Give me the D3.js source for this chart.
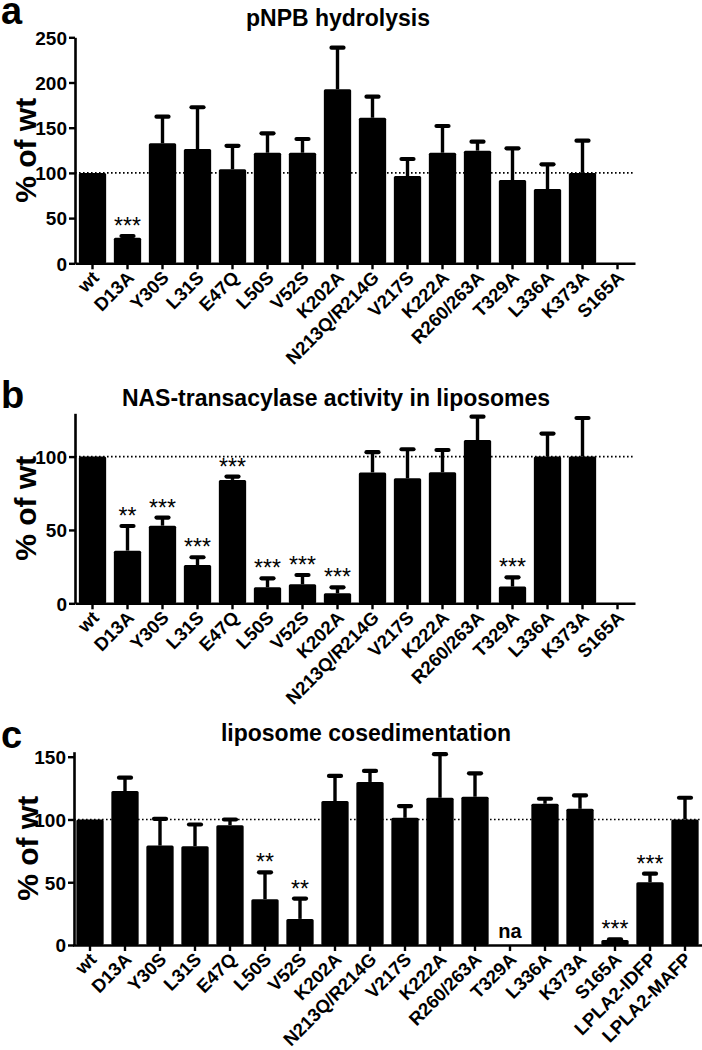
<!DOCTYPE html>
<html><head><meta charset="utf-8">
<script src="https://cdn.jsdelivr.net/npm/d3@7"></script>
<style>
html,body{margin:0;padding:0;background:#fff;}
svg{display:block;}
text{font-family:"Liberation Sans",Arial,Helvetica,sans-serif;fill:#000;}
</style>
</head><body>
<script>
// ---------- data ----------
const catsAB = ["wt","D13A","Y30S","L31S","E47Q","L50S","V52S","K202A","N213Q/R214G","V217S","K222A","R260/263A","T329A","L336A","K373A","S165A"];
const catsC  = ["wt","D13A","Y30S","L31S","E47Q","L50S","V52S","K202A","N213Q/R214G","V217S","K222A","R260/263A","T329A","L336A","K373A","S165A","LPLA2-IDFP","LPLA2-MAFP"];

// panel a: pNPB hydrolysis
const valsA = [100, 28.3, 132.7, 126.4, 104, 122.3, 122.3, 192.5, 161, 96.6, 122.3, 124.6, 92.1, 82.2, 100, 0];
const errsA = [0, 1.9, 29.5, 46.2, 26, 21.5, 15.2, 46, 23.3, 18.8, 29.6, 9.9, 35.1, 27.3, 35.6, 0];
const sigA  = ["", "***", "", "", "", "", "", "", "", "", "", "", "", "", "", ""];

// panel b: NAS-transacylase activity in liposomes
const valsB = [100, 35.9, 52.9, 26.1, 84.1, 10.9, 12.9, 6.8, 89.2, 85.2, 89.3, 111.3, 11.4, 100, 100, 0];
const errsB = [0, 16.8, 5.5, 5.3, 2.3, 6.1, 6.4, 4.1, 13.8, 19.8, 15.2, 15.9, 6.3, 15.7, 26.3, 0];
const sigB  = ["", "**", "***", "***", "***", "***", "***", "***", "", "", "", "", "***", "", "", ""];

// panel c: liposome cosedimentation (T329A not available)
const valsC = [100, 122.7, 79.2, 78.7, 95.5, 36.5, 20.8, 114.7, 129.9, 101.3, 117.3, 118.1, null, 112.5, 108.5, 4, 50, 100];
const errsC = [0, 10.6, 21.3, 17.3, 4.5, 21.4, 16.2, 20, 8.8, 9.4, 34.7, 18.7, 0, 4, 10.7, 0.5, 6.8, 17.3];
const sigC  = ["", "", "", "", "", "**", "**", "", "", "", "", "", "", "", "", "***", "***", ""];
const naLabel = "na";

const yTicksA = [0, 50, 100, 150, 200, 250];
const yTicksB = [0, 50, 100];
const yTicksC = [0, 50, 100, 150];
const titles = ["pNPB hydrolysis", "NAS-transacylase activity in liposomes", "liposome cosedimentation"];
const letters = ["a", "b", "c"];
const yLabel = "% of wt";
const refValue = 100;

// ---------- drawing ----------
const svg = d3.select("body").append("svg").attr("width", 702).attr("height", 1050);
const FONT = '"Liberation Sans",Arial,sans-serif';

function panel(o) {
  const g = svg.append("g");
  const x = d3.scaleBand().domain(o.cats).range(o.xr).paddingInner(0.22).paddingOuter(0.11);
  const y = d3.scaleLinear().domain(o.yd).range(o.yr);
  const bw = x.bandwidth();
  const data = o.cats.map((c, i) => ({c, v: o.vals[i], e: o.errs[i], s: o.sig[i]}));

  // reference dotted line
  g.append("line")
    .attr("x1", o.axisX).attr("x2", o.xEnd)
    .attr("y1", y(refValue)).attr("y2", y(refValue))
    .attr("stroke", "#000").attr("stroke-width", 1.6).attr("stroke-dasharray", "1.6,2.4");

  // bars
  g.selectAll("rect.bar").data(data.filter(d => d.v != null && d.v > 0)).join("rect")
    .attr("class", "bar")
    .attr("x", d => x(d.c)).attr("width", bw)
    .attr("y", d => y(d.v)).attr("height", d => y(0) - y(d.v))
    .attr("rx", 1.5).attr("fill", "#000");

  // error bars (upper only)
  const eb = data.filter(d => d.v != null && d.e > 0);
  g.selectAll("line.stem").data(eb).join("line")
    .attr("class", "stem")
    .attr("x1", d => x(d.c) + bw / 2).attr("x2", d => x(d.c) + bw / 2)
    .attr("y1", d => y(d.v)).attr("y2", d => y(d.v + d.e))
    .attr("stroke", "#000").attr("stroke-width", 3.4);
  g.selectAll("line.cap").data(eb).join("line")
    .attr("class", "cap")
    .attr("x1", d => x(d.c) + bw / 2 - 6).attr("x2", d => x(d.c) + bw / 2 + 6)
    .attr("y1", d => y(d.v + d.e)).attr("y2", d => y(d.v + d.e))
    .attr("stroke", "#000").attr("stroke-width", 4.2).attr("stroke-linecap", "round");

  // significance labels
  g.selectAll("text.sig").data(data.filter(d => d.s)).join("text")
    .attr("class", "sig")
    .attr("x", d => x(d.c) + bw / 2)
    .attr("y", d => y((d.v || 0) + d.e) - 2)
    .attr("text-anchor", "middle")
    .attr("font-size", 23)
    .text(d => d.s);

  // not-available label
  data.filter(d => d.v == null).forEach(d => {
    g.append("text").attr("x", x(d.c) + bw / 2).attr("y", y(0) - 7)
      .attr("text-anchor", "middle").attr("font-size", 20).attr("font-weight", "bold")
      .text(naLabel);
  });

  // y axis
  const ya = g.append("g").attr("transform", `translate(${o.axisX},0)`)
    .call(d3.axisLeft(y).tickValues(o.yt).tickSize(6).tickSizeOuter(0).tickPadding(3));
  ya.select(".domain").attr("stroke-width", 2.6);
  ya.selectAll(".tick line").attr("stroke-width", 2.4);
  ya.selectAll(".tick text")
    .attr("x", -8).attr("dy", "0.36em")
    .attr("font-size", 19).attr("font-weight", "bold").attr("font-family", FONT);

  // x axis
  const xa = g.append("g").attr("transform", `translate(0,${y(0)})`)
    .call(d3.axisBottom(x).tickSize(6).tickSizeOuter(0));
  xa.select(".domain").attr("stroke-width", 2.6);
  xa.selectAll(".tick line").attr("stroke-width", 2.4);
  xa.selectAll(".tick text")
    .attr("x", null).attr("y", null).attr("dy", "0.35em")
    .attr("text-anchor", "end")
    .attr("transform", "translate(3,11) rotate(-45)")
    .attr("font-size", 18.5).attr("font-weight", "bold").attr("font-family", FONT);

  // title, letter, y label
  svg.append("text").attr("x", o.titleX).attr("y", o.titleY)
    .attr("text-anchor", "middle").attr("font-size", 23).attr("font-weight", "bold").text(o.title);
  svg.append("text").attr("x", 1).attr("y", o.letterY)
    .attr("font-size", 38).attr("font-weight", "bold").text(o.letter);
  svg.append("text")
    .attr("transform", `translate(${o.ylabX},${(o.yr[0] + o.yr[1]) / 2}) rotate(-90)`)
    .attr("text-anchor", "middle").attr("font-size", 30).attr("font-weight", "bold").text(yLabel);
}

panel({cats: catsAB, vals: valsA, errs: errsA, sig: sigA,
  xr: [75, 635], xEnd: 633, axisX: 75, yd: [0, 250], yr: [263.3, 37.3], yt: yTicksA,
  title: titles[0], titleX: 338, titleY: 26, letter: letters[0], letterY: 24, ylabX: 36});
panel({cats: catsAB, vals: valsB, errs: errsB, sig: sigB,
  xr: [75, 635], xEnd: 633, axisX: 75, yd: [0, 129.5], yr: [603.3, 413.3], yt: yTicksB,
  title: titles[1], titleX: 336, titleY: 406, letter: letters[1], letterY: 408, ylabX: 36});
panel({cats: catsC, vals: valsC, errs: errsC, sig: sigC,
  xr: [72.5, 702.5], xEnd: 702, axisX: 74, yd: [0, 154], yr: [945, 751.7], yt: yTicksC,
  title: titles[2], titleX: 366, titleY: 741, letter: letters[2], letterY: 748, ylabX: 38});
</script>
</body></html>
